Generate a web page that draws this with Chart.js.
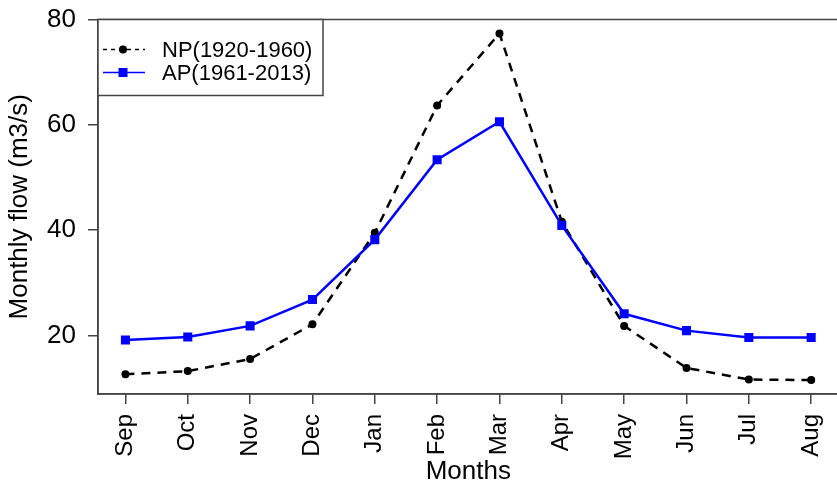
<!DOCTYPE html>
<html><head><meta charset="utf-8">
<script src="https://cdn.jsdelivr.net/npm/chart.js@4.4.0/dist/chart.umd.min.js"></script>
<style>
html,body{margin:0;padding:0;background:#fff;overflow:hidden;}
#wrap{width:837px;height:486px;overflow:hidden;position:relative;background:#fff;}
canvas{display:block;}
</style></head><body>
<div id="wrap"><canvas id="c" width="845" height="486"></canvas></div>
<script>
const months = ['Sep','Oct','Nov','Dec','Jan','Feb','Mar','Apr','May','Jun','Jul','Aug'];
const npValues = [12.6, 13.2, 15.5, 22.1, 39.5, 63.7, 77.4, 41.6, 21.8, 13.8, 11.6, 11.5];
const apValues = [19.1, 19.7, 21.8, 26.8, 38.2, 53.4, 60.6, 40.9, 24.1, 20.9, 19.6, 19.6];
const yTicks = [20, 40, 60, 80];
const seriesNames = ['NP(1920-1960)', 'AP(1961-2013)'];

const FAMILY = "'Liberation Sans', Arial, Helvetica, sans-serif";
const AXIS_COLOR = '#444';

function zeroPad(s) {
  s.paddingLeft = 0; s.paddingRight = 0; s.paddingTop = 0; s.paddingBottom = 0;
}

const frameAndLegend = {
  id: 'frameAndLegend',
  afterDraw(chart) {
    const {ctx, chartArea: a} = chart;
    ctx.save();
    ctx.strokeStyle = AXIS_COLOR;
    ctx.lineWidth = 1.5;
    ctx.strokeRect(a.left, a.top, a.right - a.left, a.bottom - a.top);
    // legend box
    const x0 = a.left, y0 = a.top, w = 225, h = 76;
    ctx.fillStyle = '#fff';
    ctx.fillRect(x0, y0, w, h);
    ctx.strokeRect(x0, y0, w, h);
    chart.data.datasets.forEach((ds, i) => {
      const cy = y0 + 30 + i * 23;
      ctx.strokeStyle = ds.borderColor;
      ctx.lineWidth = 1.5;
      ctx.setLineDash(ds.borderDash ? [4, 4] : []);
      ctx.beginPath();
      ctx.moveTo(x0 + 5, cy);
      ctx.lineTo(x0 + 47, cy);
      ctx.stroke();
      ctx.setLineDash([]);
      ctx.fillStyle = ds.pointBackgroundColor;
      if (ds.pointStyle === 'rect') {
        ctx.fillRect(x0 + 25 - 4.5, cy - 4.5, 9, 9);
      } else {
        ctx.beginPath();
        ctx.arc(x0 + 25, cy, 4, 0, Math.PI * 2);
        ctx.fill();
      }
      ctx.fillStyle = '#000';
      ctx.font = '22px ' + FAMILY;
      ctx.textBaseline = 'middle';
      ctx.textAlign = 'left';
      ctx.fillText(ds.label, x0 + 64, cy + 1);
    });
    ctx.restore();
  }
};

new Chart(document.getElementById('c'), {
  type: 'line',
  data: {
    datasets: [
      {
        label: seriesNames[0],
        data: npValues.map((v, i) => ({x: i, y: v})),
        borderColor: '#000',
        backgroundColor: '#000',
        pointBackgroundColor: '#000',
        pointBorderColor: '#000',
        borderWidth: 2.5,
        borderDash: [9, 7],
        pointStyle: 'circle',
        pointRadius: 4,
        pointBorderWidth: 0,
        tension: 0,
        fill: false,
        order: 1
      },
      {
        label: seriesNames[1],
        data: apValues.map((v, i) => ({x: i, y: v})),
        borderColor: '#0000ff',
        backgroundColor: '#0000ff',
        pointBackgroundColor: '#0000ff',
        pointBorderColor: '#0000ff',
        borderWidth: 2.5,
        pointStyle: 'rect',
        pointRadius: 6.4,
        pointBorderWidth: 0,
        tension: 0,
        fill: false,
        order: 0
      }
    ]
  },
  options: {
    responsive: false,
    animation: false,
    devicePixelRatio: 1,
    layout: {padding: {top: 19.5, right: 1, bottom: 0, left: 0}},
    plugins: {legend: {display: false}, tooltip: {enabled: false}},
    scales: {
      x: {
        type: 'linear',
        min: -0.44,
        max: 11.44,
        afterBuildTicks: s => { s.ticks = months.map((m, i) => ({value: i})); },
        afterFit: s => { s.height = 92; zeroPad(s); },
        ticks: {
          callback: v => months[v],
          minRotation: 90, maxRotation: 90, autoSkip: false,
          padding: 10, color: '#000',
          font: {size: 24, family: FAMILY}
        },
        grid: {drawOnChartArea: false, drawTicks: true, tickLength: 10, color: AXIS_COLOR, lineWidth: 1.5},
        border: {display: true, color: AXIS_COLOR, width: 1.5},
        title: {display: true, text: 'Months', color: '#000', font: {size: 26, family: FAMILY, lineHeight: 1.1}, padding: {top: 0, bottom: 0}}
      },
      y: {
        min: 8.85,
        max: 80.05,
        afterBuildTicks: s => { s.ticks = yTicks.map(v => ({value: v})); },
        afterFit: s => { s.width = 98; zeroPad(s); },
        ticks: {padding: 12, color: '#000', font: {size: 26, family: FAMILY}},
        grid: {drawOnChartArea: false, drawTicks: true, tickLength: 10, color: AXIS_COLOR, lineWidth: 1.5},
        border: {display: true, color: AXIS_COLOR, width: 1.5},
        title: {display: true, text: 'Monthly flow (m3/s)', color: '#000', font: {size: 26, family: FAMILY, lineHeight: 1.1}, padding: {top: 6, bottom: 0}}
      }
    }
  },
  plugins: [frameAndLegend]
});
</script>
</body></html>
